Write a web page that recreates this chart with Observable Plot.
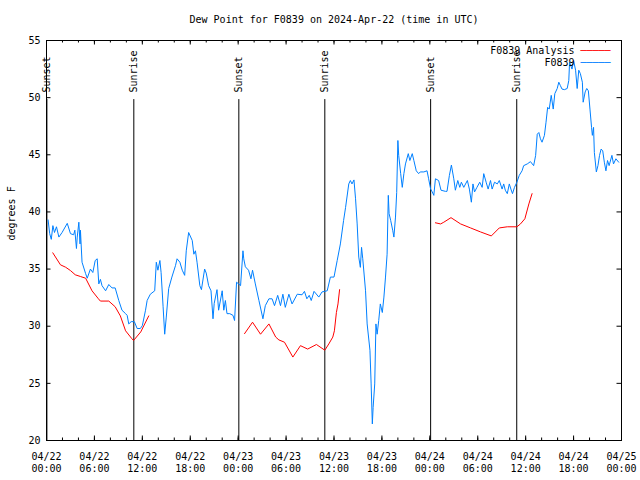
<!DOCTYPE html>
<html><head><meta charset="utf-8">
<script src="https://cdn.jsdelivr.net/npm/d3@7"></script>
<script src="https://cdn.jsdelivr.net/npm/@observablehq/plot@0.6"></script>
<style>body{margin:0;background:#fff} svg{display:block}</style>
</head><body><div id="chart"></div>
<script>
const title = "Dew Point for F0839 on 2024-Apr-22 (time in UTC)";
const yLabel = "degrees F";
const seriesNames = ["F0839 Analysis", "F0839"];
const seriesColors = ["#ff0000", "#0080ff"];
const startTime = "2024-04-22T00:00:00Z";
const endTime = "2024-04-25T00:00:00Z";
const yDomain = [20, 55];
const yTickValues = [20, 25, 30, 35, 40, 45, 50, 55];
const xTickTimes = ["2024-04-22T00:00Z","2024-04-22T06:00Z","2024-04-22T12:00Z","2024-04-22T18:00Z",
  "2024-04-23T00:00Z","2024-04-23T06:00Z","2024-04-23T12:00Z","2024-04-23T18:00Z",
  "2024-04-24T00:00Z","2024-04-24T06:00Z","2024-04-24T12:00Z","2024-04-24T18:00Z","2024-04-25T00:00Z"];
const xTickLabels = ["04/22\n00:00","04/22\n06:00","04/22\n12:00","04/22\n18:00",
  "04/23\n00:00","04/23\n06:00","04/23\n12:00","04/23\n18:00",
  "04/24\n00:00","04/24\n06:00","04/24\n12:00","04/24\n18:00","04/25\n00:00"];
const eventNames = ["Sunset","Sunrise","Sunset","Sunrise","Sunset","Sunrise"];
const eventTimes = ["2024-04-22T00:03Z","2024-04-22T10:56Z","2024-04-23T00:05Z","2024-04-23T10:51Z","2024-04-24T00:06Z","2024-04-24T10:53Z"];

// observed F0839 (hours after start, degrees F)
const obsHours = [0.2,0.4,0.6,0.8,1.0,1.25,1.55,1.95,2.6,3.0,3.4,3.55,3.75,3.85,4.05,4.2,4.25,4.45,4.9,5.1,5.5,5.8,6.1,6.35,6.55,6.75,6.95,7.4,7.8,8.2,8.6,9.05,9.45,9.9,10.1,10.3,10.6,11.0,11.35,11.75,12.0,12.4,12.6,13.0,13.55,13.75,13.95,14.2,14.35,14.6,14.8,15.0,15.3,15.7,16.15,16.35,16.7,17.0,17.3,17.5,17.8,18.25,18.45,18.65,18.85,19.2,19.4,19.8,20.0,20.3,20.6,20.85,21.0,21.35,21.55,22.0,22.2,22.4,22.6,22.95,23.35,23.55,23.8,24.3,24.6,24.7,24.9,25.3,25.6,25.8,26.15,26.6,27.1,27.4,27.85,28.25,28.55,28.95,29.3,29.6,29.9,30.35,30.75,31.4,32.0,32.3,32.6,32.9,33.15,33.5,34.1,34.5,35.15,35.55,36.0,36.4,36.8,37.2,37.45,37.85,38.05,38.25,38.5,38.7,38.9,39.1,39.3,39.45,39.6,39.95,40.15,40.5,40.65,40.8,40.9,41.1,41.25,41.4,41.6,41.8,42.05,42.25,42.45,42.65,42.8,42.9,43.1,43.35,43.5,43.7,43.85,44.0,44.1,44.35,44.55,44.75,44.95,45.3,45.5,45.8,46.0,46.3,46.6,46.8,47.25,47.65,47.85,48.1,48.3,48.5,48.7,49.1,49.4,49.95,50.15,50.45,50.7,51.0,51.2,51.5,51.75,51.95,52.25,52.7,52.95,53.2,53.4,53.6,53.9,54.25,54.55,54.75,55.05,55.3,55.6,55.8,56.1,56.45,56.7,57.05,57.25,57.45,57.7,57.95,58.15,58.35,58.6,58.9,59.2,59.55,59.75,60.2,60.6,61.0,61.25,61.45,61.65,61.85,62.05,62.35,62.55,62.75,62.95,63.2,63.45,63.65,63.95,64.15,64.35,64.55,64.85,65.2,65.4,65.5,65.8,66.0,66.25,66.45,66.65,66.85,67.1,67.2,67.45,67.65,67.85,68.05,68.25,68.35,68.5,68.6,68.85,69.05,69.25,69.45,69.65,69.85,70.05,70.25,70.45,70.8,71.0,71.3,71.65];
const obsValues = [39.3,38.1,37.6,38.8,38.2,38.7,37.8,38.2,39.0,38.1,38.0,38.4,36.8,37.8,39.1,37.2,38.4,35.6,34.6,34.2,35.0,34.7,35.75,35.9,33.7,34.1,33.55,33.1,33.65,33.35,33.35,32.25,31.4,31.1,30.95,30.2,30.4,30.4,29.8,29.8,30.05,31.4,32.25,32.8,33.1,35.6,34.9,35.75,34.7,31.7,29.3,30.8,33.3,34.3,35.3,35.9,35.6,34.9,34.45,36.6,38.2,37.5,36.3,36.6,35.6,33.55,33.2,35.0,34.65,33.55,33.1,30.65,32.0,33.2,31.4,33.1,31.4,32.25,31.1,31.1,30.95,30.5,33.85,33.55,36.6,35.9,35.2,34.9,34.15,34.9,33.7,32.25,30.65,31.8,32.4,32.4,31.8,32.7,31.8,32.8,31.65,32.8,31.95,32.8,32.75,33.05,32.4,32.7,32.25,33.05,32.55,33.0,33.1,34.3,34.3,35.75,37.2,39.25,40.4,42.45,42.75,42.45,42.8,41.15,38.95,36.05,35.15,36.9,35.9,33.1,30.2,27.9,24.95,21.45,22.9,24.95,30.2,29.3,30.5,31.95,31.2,32.55,34.3,36.3,41.45,39.85,39.25,38.4,37.8,39.55,41.7,46.25,44.95,43.35,42.15,43.35,44.2,45.1,44.5,45.1,44.5,43.6,43.35,43.5,43.5,43.6,42.9,42.0,41.75,41.45,42.9,42.75,41.9,41.8,41.8,43.2,44.1,42.9,41.9,42.75,42.15,42.6,42.15,42.75,42.0,40.85,42.45,41.75,42.15,42.6,42.15,43.35,42.6,42.0,42.75,42.0,42.6,42.45,42.75,42.0,42.45,41.9,41.6,42.45,42.0,41.6,42.15,42.6,43.2,43.6,44.05,44.2,44.4,44.05,44.95,46.8,46.95,46.4,46.1,46.7,47.85,49.15,49.0,50.2,49.0,50.35,50.8,51.35,51.05,50.75,50.7,50.8,51.5,53.1,52.5,53.25,52.4,50.8,52.4,52.1,51.35,49.6,50.5,50.8,50.6,49.0,47.4,46.7,47.4,45.2,43.5,44.05,44.95,45.5,45.35,44.35,43.6,44.5,44.05,44.95,44.2,44.65,44.35];

// F0839 Analysis (NaN marks the gaps between daily runs)
const anaHours = [0.79,1.75,2.4,3.0,3.6,4.25,4.9,5.7,6.5,6.75,7.8,8.6,9.25,9.9,10.7,10.9,11.8,12.8,18,
  24.8,25.8,26.8,27.85,28.7,29.1,29.8,30.85,31.8,32.7,33.8,34.85,35.35,35.85,36.05,36.3,36.5,36.7,42,
  48.7,49.35,49.75,50.65,51.85,53.1,54.35,55.7,56.7,57.7,58.9,59.35,59.9,60.4,60.8];
const anaValues = [36.42,35.37,35.16,34.87,34.5,34.35,34.2,33.1,32.4,32.2,32.2,31.7,30.9,29.6,28.9,28.75,29.5,30.9,NaN,
  29.35,30.35,29.3,30.2,29.05,28.8,28.6,27.3,28.3,28.0,28.4,27.9,28.45,29.05,29.6,31.2,31.95,33.2,NaN,
  39.05,38.95,39.1,39.5,38.95,38.6,38.25,37.9,38.6,38.7,38.7,38.95,39.4,40.7,41.6];

const t0 = new Date(startTime);
const toDate = h => new Date(+t0 + h * 3600e3);
const obs = obsHours.map((h, i) => ({time: toDate(h), value: obsValues[i]}));
const ana = anaHours.map((h, i) => ({time: toDate(h), value: anaValues[i]}));
const events = eventNames.map((n, i) => ({name: n, time: new Date(eventTimes[i])}));
const majors = xTickTimes.map((t, i) => ({time: new Date(t), label: xTickLabels[i]}));
const minors = d3.utcHour.every(2).range(new Date(startTime), new Date(endTime));

const font = "DejaVu Sans Mono";
const txt = {fontSize: 10, fill: "black", lineAnchor: "middle"};
const chart = Plot.plot({
  width: 640, height: 480,
  marginLeft: 46, marginRight: 19, marginTop: 40, marginBottom: 40,
  x: {type: "utc", domain: [new Date(startTime), new Date(endTime)], axis: null},
  y: {domain: yDomain, axis: null},
  style: {fontFamily: font, fontSize: "10px", background: "white", color: "black"},
  marks: [
    Plot.ruleX(events, {x: "time", y1: 20, y2: 49.83, stroke: "black", strokeWidth: 1}),
    Plot.text(events, {...txt, x: "time", y: 50.45, text: "name", rotate: -90, textAnchor: "start"}),
    Plot.line(ana, {x: "time", y: "value", stroke: seriesColors[0], strokeWidth: 1, curve: "linear"}),
    Plot.line(obs, {x: "time", y: "value", stroke: seriesColors[1], strokeWidth: 1, curve: "linear"}),
    Plot.frame({stroke: "black", strokeWidth: 1}),
    Plot.tickX(minors, {x: d => d, insetTop: 397.5, stroke: "black"}),
    Plot.tickX(minors, {x: d => d, insetBottom: 397.5, stroke: "black"}),
    Plot.tickX(majors, {x: "time", insetTop: 395.5, stroke: "black"}),
    Plot.tickX(majors, {x: "time", insetBottom: 395.5, stroke: "black"}),
    Plot.tickY(yTickValues, {y: d => d, insetRight: 570.5, stroke: "black"}),
    Plot.tickY(yTickValues, {y: d => d, insetLeft: 570.5, stroke: "black"}),
    Plot.text(majors, {x: "time", text: "label", frameAnchor: "bottom", dy: 10, lineAnchor: "top", lineHeight: 1.27, fontSize: 10, fill: "black"}),
    Plot.text(yTickValues, {...txt, y: d => d, text: d => String(d), frameAnchor: "left", dx: -6, textAnchor: "end"}),
    Plot.text([yLabel], {...txt, frameAnchor: "left", dx: -35, rotate: -90}),
    Plot.text([title], {...txt, frameAnchor: "top", dy: -21}),
    Plot.text([seriesNames[0]], {...txt, frameAnchor: "top-right", dx: -47, dy: 10, textAnchor: "end"}),
    Plot.text([seriesNames[1]], {...txt, frameAnchor: "top-right", dx: -47, dy: 22, textAnchor: "end"}),
    Plot.text(["\u2500\u2500\u2500\u2500\u2500"], {...txt, frameAnchor: "top-right", dx: -11, dy: 10, textAnchor: "end", fill: seriesColors[0]}),
    Plot.text(["\u2500\u2500\u2500\u2500\u2500"], {...txt, frameAnchor: "top-right", dx: -11, dy: 22, textAnchor: "end", fill: seriesColors[1]})
  ]
});
document.getElementById("chart").appendChild(chart);
</script>
</body></html>
